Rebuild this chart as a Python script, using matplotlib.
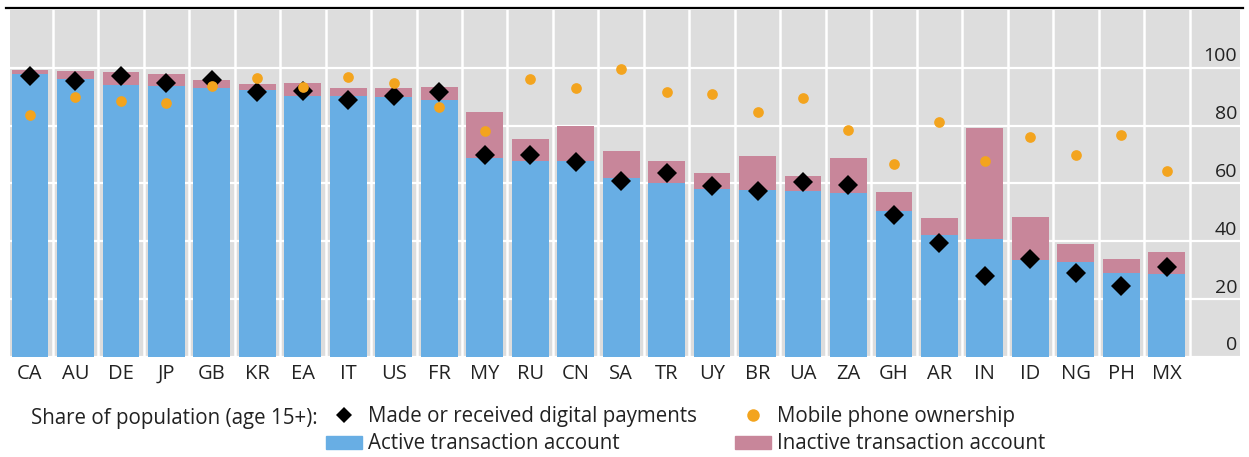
import matplotlib
matplotlib.use('Agg')
import matplotlib.pyplot as plt
from matplotlib.lines import Line2D
from matplotlib.patches import Patch
import numpy as np

plt.rcParams['font.family'] = ['Open Sans', 'DejaVu Sans']

paises = ['CA', 'AU', 'DE', 'JP', 'GB', 'KR', 'EA', 'IT', 'US', 'FR', 'MY', 'RU', 'CN',
          'SA', 'TR', 'UY', 'BR', 'UA', 'ZA', 'GH', 'AR', 'IN', 'ID', 'NG', 'PH', 'MX']
cuenta_activa = [97.8, 96.1, 94.0, 93.6, 93.0, 92.4, 90.3, 90.3, 89.8, 89.0, 68.8, 67.9, 67.9,
                 61.8, 60.1, 58.2, 57.8, 57.3, 56.7, 50.4, 42.1, 40.9, 33.7, 32.9, 29.1, 28.6]
cuenta_inactiva = [1.5, 2.9, 4.7, 4.4, 2.7, 2.1, 4.5, 2.9, 3.1, 4.4, 16.1, 7.5, 12.0,
                   9.5, 7.8, 5.4, 11.7, 5.2, 12.1, 6.6, 6.1, 38.3, 14.7, 6.1, 4.9, 7.7]
pagos_digitales = [97.2, 95.5, 97.2, 94.9, 95.9, 91.5, 92.0, 89.0, 90.3, 91.8, 70.0, 70.0, 67.6,
                   60.7, 63.6, 59.1, 57.3, 60.5, 59.5, 49.0, 39.5, 28.0, 34.0, 28.9, 24.5, 31.1]
telefono_movil = [83.7, 90.0, 88.6, 88.0, 93.8, 96.4, 93.4, 96.7, 94.6, 86.6, 78.3, 96.3, 93.0,
                  99.5, 91.8, 91.1, 84.9, 89.5, 78.5, 66.6, 81.1, 67.9, 76.2, 70.0, 76.8, 64.2]
ticks_y = [0, 20, 40, 60, 80, 100]

azul = '#68AEE4'
rosa = '#C8869A'
naranja = '#F3A41E'
gris = '#DDDDDD'
texto = '#222222'

fig = plt.figure(figsize=(12.49, 4.57), dpi=100)
ax = fig.add_axes([0.008, 0.219, 0.9848, 0.759])
ax.set_facecolor(gris)

x = np.arange(len(paises))
ax.bar(x, cuenta_activa, width=0.81, color=azul, zorder=2)
ax.bar(x, cuenta_inactiva, width=0.81, bottom=cuenta_activa, color=rosa, zorder=2)
ax.plot(x, pagos_digitales, linestyle='none', marker='D', markersize=10, color='black',
        markeredgewidth=0, zorder=3)
ax.plot(x, telefono_movil, linestyle='none', marker='o', markersize=7.7, color=naranja,
        markeredgewidth=0, zorder=4)

# grilla blanca
for v in ticks_y:
    ax.axhline(v, color='white', linewidth=1.6, zorder=1)
for xi in x:
    ax.axvline(xi + 0.5, color='white', linewidth=1.8, zorder=1)

ax.set_xlim(-0.44, 26.61)
ax.set_ylim(0, 120)
ax.set_xticks(x)
ax.set_xticklabels(paises, fontsize=14.5, color=texto)
ax.tick_params(axis='x', length=0, pad=5)
ax.set_yticks([])
for v in ticks_y:
    ax.text(26.55, v + 4.0, str(v), ha='right', va='center', fontsize=14, color=texto)
for s in ax.spines.values():
    s.set_visible(False)

# linea negra superior
fig.add_artist(Line2D([0.005, 0.995], [0.982, 0.982], color='black', linewidth=1.6))

fig.text(0.0248, 0.073, 'Share of population (age 15+):', fontsize=14.8, color=texto,
         va='baseline')
handles = [Line2D([], [], linestyle='none', marker='D', markersize=8.5, color='black', markeredgewidth=0),
           Patch(color=azul),
           Line2D([], [], linestyle='none', marker='o', markersize=9, color=naranja, markeredgewidth=0),
           Patch(color=rosa)]
labels = ['Made or received digital payments', 'Active transaction account',
          'Mobile phone ownership', 'Inactive transaction account']
fig.legend(handles, labels, ncol=2, loc='upper left', bbox_to_anchor=(0.261, 0.111),
           frameon=False, fontsize=14.8, borderpad=0, borderaxespad=0, handlelength=1.75,
           handleheight=0.62, handletextpad=0.3, columnspacing=1.85, labelspacing=0.3,
           labelcolor=texto)

fig.savefig('out.png', dpi=100)
